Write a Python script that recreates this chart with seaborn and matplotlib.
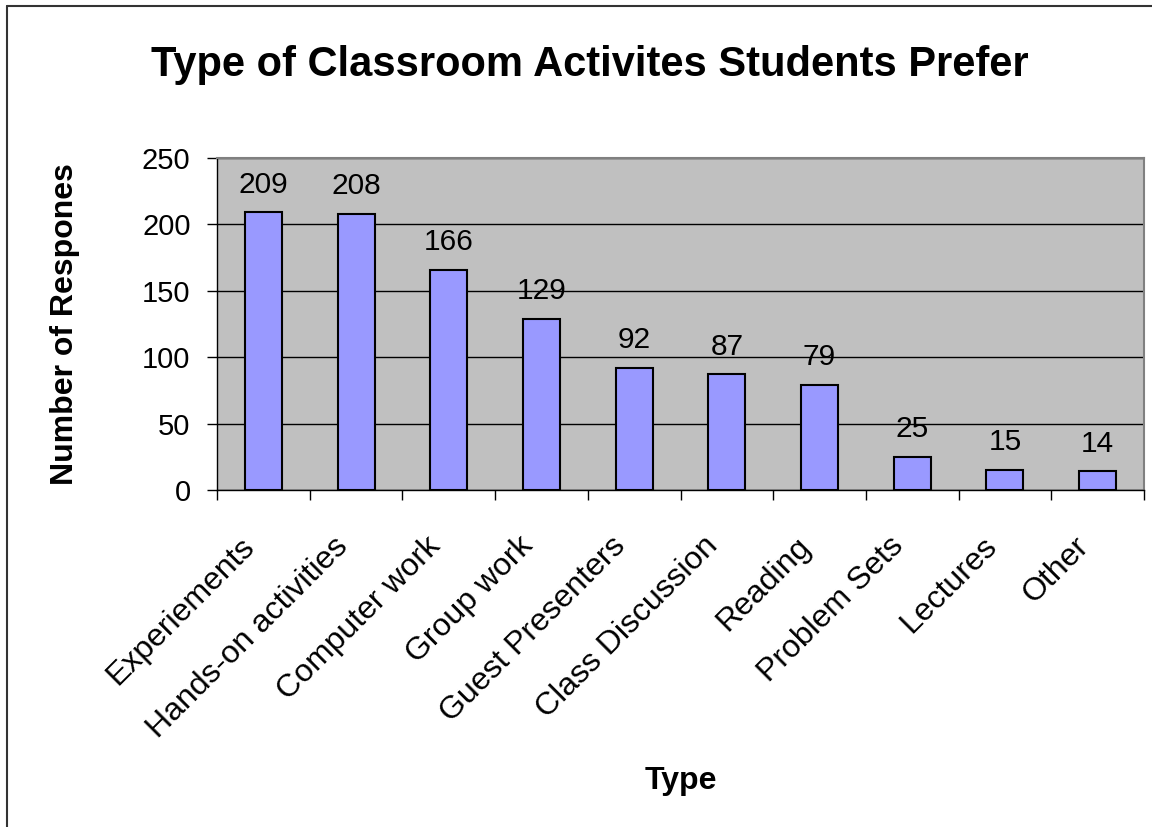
import matplotlib
matplotlib.use("Agg")
import matplotlib.pyplot as plt
import matplotlib.lines as mlines
import matplotlib.transforms as mtransforms
import seaborn as sns
import pandas as pd

categories = ["Experiements", "Hands-on activities", "Computer work", "Group work",
              "Guest Presenters", "Class Discussion", "Reading", "Problem Sets",
              "Lectures", "Other"]
responses = [209, 208, 166, 129, 92, 87, 79, 25, 15, 14]
y_ticks = [0, 50, 100, 150, 200, 250]

df = pd.DataFrame({"Type": categories, "Responses": responses})

sns.set_theme(style="white")
plt.rcParams["font.family"] = ["Liberation Sans", "DejaVu Sans"]
plt.rcParams["text.color"] = "black"

fig = plt.figure(figsize=(11.52, 8.27), dpi=100)
ax = fig.add_axes([217 / 1152, 1 - 490 / 827, (1144 - 217) / 1152, (490 - 158) / 827])
ax.set_facecolor("#C0C0C0")

sns.barplot(data=df, x="Type", y="Responses", color="#9999FF", saturation=1,
            width=0.4, edgecolor="black", linewidth=1.5, ax=ax, zorder=3)

ax.set_ylim(0, 250)
ax.set_xlim(-0.5, len(categories) - 0.5)
ax.set_yticks(y_ticks)
ax.yaxis.grid(True, color="black", linewidth=1, zorder=0)
ax.set_axisbelow(True)

for i, v in enumerate(responses):
    ax.annotate(str(v), (i, v), xytext=(0, 10), textcoords="offset points",
                ha="center", va="bottom", fontsize=21.5, color="black")

for side in ["top", "right"]:
    ax.spines[side].set_color("#808080")
    ax.spines[side].set_linewidth(1.5)
for side in ["left", "bottom"]:
    ax.spines[side].set_color("black")
    ax.spines[side].set_linewidth(1)

ax.tick_params(axis="y", labelsize=21, length=7, width=1, direction="out", left=True,
               pad=12, colors="black")
ax.tick_params(axis="x", length=0, labelsize=23, pad=30, colors="black")
# category separator ticks below x axis
ax.set_xticks([i - 0.5 for i in range(len(categories) + 1)], minor=True)
ax.tick_params(axis="x", which="minor", length=7, width=1, bottom=True,
               direction="out", color="black")
ax.set_xticklabels(categories, rotation=45, ha="right", va="center", rotation_mode="anchor")
shift = mtransforms.ScaledTranslation(-0.13, -0.10, fig.dpi_scale_trans)
for lbl in ax.get_xticklabels():
    lbl.set_color("black")
    lbl.set_transform(lbl.get_transform() + shift)

ax.set_xlabel("Type", fontsize=23, fontweight="bold", color="black")
ax.xaxis.set_label_coords(0.5, -(766 - 490) / (490 - 158))
ax.set_ylabel("Number of Respones", fontsize=23, fontweight="bold", color="black")
ax.yaxis.set_label_coords(-(217 - 80) / (1144 - 217), 0.5)

fig.text(590 / 1152, 1 - 65 / 827, "Type of Classroom Activites Students Prefer",
         ha="center", va="center", fontsize=30, fontweight="bold", color="black")

# outer chart frame (top and left edges visible)
fig.add_artist(mlines.Line2D([7 / 1152, 1], [1 - 6 / 827, 1 - 6 / 827], color="#333333", linewidth=1.5))
fig.add_artist(mlines.Line2D([7 / 1152, 7 / 1152], [0, 1 - 6 / 827], color="#333333", linewidth=1.5))

fig.savefig("out.png", dpi=100)
